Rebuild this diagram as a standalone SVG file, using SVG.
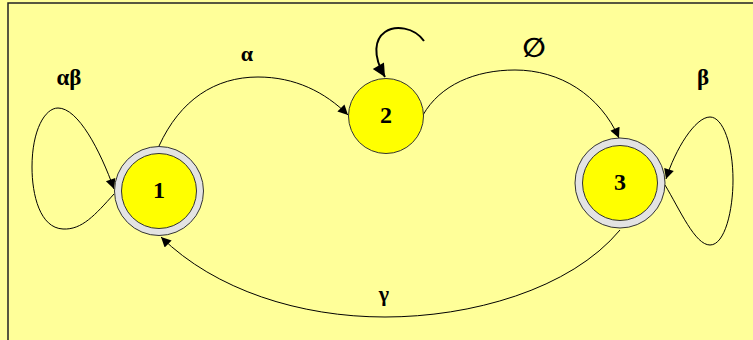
<svg xmlns="http://www.w3.org/2000/svg" width="753" height="340" viewBox="0 0 753 340">
<defs>
<style>
.edge{fill:none;stroke:#000;stroke-width:1}
.ring{fill:#e3e3e3;stroke:#333;stroke-width:1}
.core{fill:#ffff00;stroke:#333;stroke-width:1}
.lbl{font-family:"Liberation Serif","Times New Roman",serif;font-weight:bold;fill:#000;text-anchor:middle}
</style>
<marker id="ah" viewBox="0 0 10 10" refX="10" refY="5" markerWidth="14" markerHeight="10" markerUnits="userSpaceOnUse" orient="auto">
<path d="M0,0 L10,5 L0,10 z" fill="#000"/>
</marker>
<marker id="ah2" viewBox="0 0 10 10" refX="10" refY="5" markerWidth="16" markerHeight="13" markerUnits="userSpaceOnUse" orient="auto">
<path d="M0,0 L10,5 L0,10 z" fill="#000"/>
</marker>
</defs>
<rect x="0" y="0" width="753" height="340" fill="#ffff99"/>
<rect x="8" y="3" width="760" height="360" fill="#ffff99" stroke="#222" stroke-width="1.5"/>
<g id="connectors">
<path class="edge" d="M159,146 C180,100 215,77 258,77 C295,77 325,92 348,115" marker-end="url(#ah)"/>
<path class="edge" d="M423,115 C440,85 475,70 515,70 C560,70 600,95 619,138" marker-end="url(#ah)"/>
<path class="edge" d="M620,230 C570,290 470,317 385,317 C300,317 215,290 161,237" marker-end="url(#ah)"/>
<path class="edge" d="M114,194 C95,215 82,230 63,229 C40,228 32,195 32,167 C32,130 45,108 58,108 C78,108 100,150 114,189" marker-end="url(#ah)"/>
<path class="edge" d="M665,185 C680,210 695,245 710,245 C725,245 733,210 733,180 C733,145 723,117 710,117 C695,117 675,150 666,179" marker-end="url(#ah)"/>
<path d="M424,41 C414,27 395,25 385,32 C375,39 372,55 385,77" fill="none" stroke="#000" stroke-width="2" marker-end="url(#ah2)"/>
</g>
<g id="node1">
<circle class="ring" cx="159" cy="191" r="44.5"/>
<circle class="core" cx="159" cy="191" r="37.5"/>
<text class="lbl" x="159" y="198" font-size="24">1</text>
</g>
<g id="node2">
<circle class="core" cx="386" cy="116" r="37.5"/>
<text class="lbl" x="386" y="123" font-size="24">2</text>
</g>
<g id="node3">
<circle class="ring" cx="620" cy="183" r="45"/>
<circle class="core" cx="620" cy="183" r="37.5"/>
<text class="lbl" x="620" y="190" font-size="24">3</text>
</g>
<g id="labels">
<text class="lbl" x="247" y="61" font-size="22">α</text>
<text class="lbl" x="69" y="85" font-size="23">αβ</text>
<text class="lbl" x="703" y="85" font-size="23">β</text>
<text x="534" y="57" font-size="27" font-weight="bold" text-anchor="middle" font-family="DejaVu Sans,sans-serif" fill="#000">∅</text>
<text class="lbl" x="384" y="301" font-size="22">γ</text>
</g>
</svg>
